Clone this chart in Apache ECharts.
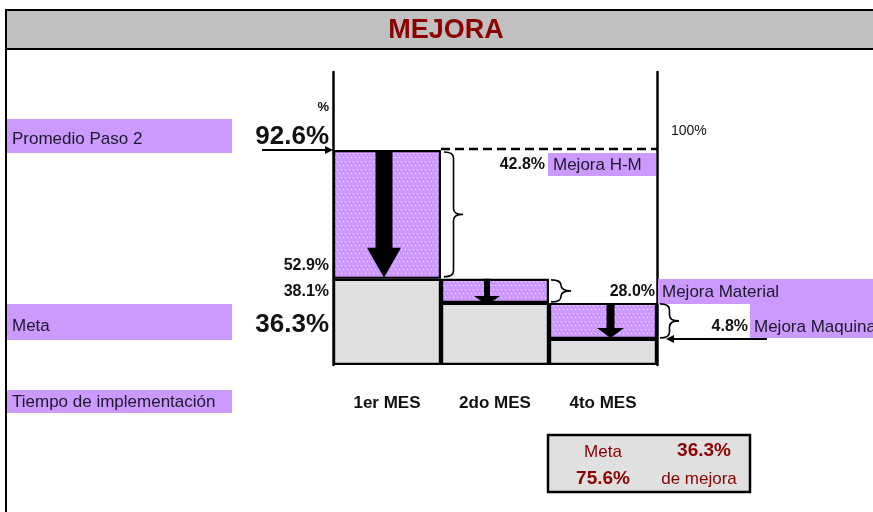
<!DOCTYPE html>
<html><head><meta charset="utf-8">
<script src="https://cdn.jsdelivr.net/npm/echarts@6/dist/echarts.min.js"></script>
<style>html,body{margin:0;padding:0;background:#fff}#c{width:873px;height:512px}</style>
</head><body><div id="c"></div>
<script>
// ---- data ----
const categories = ['1er MES', '2do MES', '4to MES'];
// drawn step levels on the diagram's own 0-100 vertical scale (not proportional to the labels)
const stepTop = [73.4, 29.4, 21.2];
const stepBottom = [29.4, 21.2, 8.9];
const levelLabels = ['92.6%', '52.9%', '38.1%', '36.3%'];
const improvementValues = ['42.8%', '28.0%', '4.8%'];
const improvementNames = ['Mejora H-M', 'Mejora Material', 'Mejora Maquina'];
const rowLabels = ['Promedio Paso 2', 'Meta', 'Tiempo de implementación'];
const metaValue = '36.3%';
const totalImprovement = '75.6%';
const titleText = 'MEJORA';

// ---- styles ----
const FONT = '"Liberation Sans", Arial, sans-serif';
const PURPLE = '#cc99ff';
const GRAY = '#e0e0e0';
const DARKRED = '#8b0000';
const arrowStyles = [
  {dx: -3, shaft: 17, headW: 34, head: 30, over: -1},
  {dx: -8, shaft: 6, headW: 26, head: 9, over: 2},
  {dx: 7.5, shaft: 8, headW: 27, head: 10, over: -1}
];
const braceStyles = [
  {gap: 3, w: 19, inset: 2},
  {gap: 2, w: 20, inset: 1},
  {gap: 3, w: 19, inset: 1}
];

// dotted purple pattern
const pc = document.createElement('canvas');
pc.width = 8; pc.height = 8;
const pctx = pc.getContext('2d');
pctx.fillStyle = PURPLE; pctx.fillRect(0, 0, 8, 8);
pctx.fillStyle = 'rgba(255,255,255,0.8)';
pctx.fillRect(1, 1, 1, 1); pctx.fillRect(5, 1, 1, 1);
pctx.fillRect(3, 5, 1, 1); pctx.fillRect(7, 5, 1, 1);
const dotted = {image: pc, repeat: 'repeat'};

function txt(x, y, text, font, fill, align) {
  return {type: 'text', x: x, y: y, z: 100,
    style: {text: text, font: font, fill: fill || '#111',
      textAlign: align || 'left', align: align || 'left',
      textVerticalAlign: 'middle', verticalAlign: 'middle'}};
}
function box(x, y, w, h, fill, stroke, lw, z) {
  return {type: 'rect', z: z || 1, shape: {x: x, y: y, width: w, height: h},
    style: {fill: fill, stroke: stroke || null, lineWidth: lw || 0}};
}

const graphics = [
  // title band + frame
  box(6, 10, 880, 39, '#c0c0c0', '#000', 2, 2),
  {type: 'line', z: 2, shape: {x1: 6, y1: 10, x2: 6, y2: 512}, style: {stroke: '#000', lineWidth: 2}},
  txt(446, 31, titleText, 'bold 27px ' + FONT, DARKRED, 'center'),
  // left row labels
  box(7, 119, 225, 34, PURPLE),
  txt(12, 139, rowLabels[0], '17px ' + FONT, '#1a1a2a'),
  box(7, 304, 225, 36, PURPLE),
  txt(12, 326, rowLabels[1], '17px ' + FONT, '#1a1a2a'),
  box(7, 390, 225, 23, PURPLE),
  txt(12, 402, rowLabels[2], '17px ' + FONT, '#1a1a2a'),
  // level labels
  txt(329, 107, '%', 'bold 13px ' + FONT, '#111', 'right'),
  txt(329, 137, levelLabels[0], 'bold 26px ' + FONT, '#111', 'right'),
  txt(329, 266, levelLabels[1], 'bold 16px ' + FONT, '#111', 'right'),
  txt(329, 292, levelLabels[2], 'bold 16px ' + FONT, '#111', 'right'),
  txt(329, 325, levelLabels[3], 'bold 26px ' + FONT, '#111', 'right'),
  txt(671, 131, '100%', '14px ' + FONT, '#111'),
  // improvement labels
  box(548, 153, 108, 23, PURPLE),
  txt(545, 165, improvementValues[0], 'bold 16px ' + FONT, '#111', 'right'),
  txt(553, 165, improvementNames[0], '17px ' + FONT, '#1a1a2a'),
  box(658, 279, 220, 25, PURPLE),
  txt(655, 292, improvementValues[1], 'bold 16px ' + FONT, '#111', 'right'),
  txt(662, 292, improvementNames[1], '17px ' + FONT, '#1a1a2a'),
  box(750, 304, 128, 34, PURPLE),
  txt(748, 327, improvementValues[2], 'bold 16px ' + FONT, '#111', 'right'),
  txt(754, 327, improvementNames[2], '17px ' + FONT, '#1a1a2a'),
  // summary box
  box(548, 435, 202, 57, GRAY, '#000', 2.5),
  txt(603, 452, 'Meta', '17px ' + FONT, DARKRED, 'center'),
  txt(704, 451, metaValue, 'bold 19px ' + FONT, DARKRED, 'center'),
  txt(603, 479, totalImprovement, 'bold 19px ' + FONT, DARKRED, 'center'),
  txt(699, 479, 'de mejora', '17px ' + FONT, DARKRED, 'center')
];

const chart = echarts.init(document.getElementById('c'), null, {renderer: 'canvas'});

function renderSteps(params, api) {
  const i = api.value(0);
  const top = api.coord([i, api.value(1)]);
  const bot = api.coord([i, api.value(2)]);
  const bw = api.size([1, 0])[0];
  const right = top[0] + bw / 2;
  const gridRight = api.coord([2, 0])[0] + bw / 2;
  const gridLeft = api.coord([0, 0])[0] - bw / 2;
  const children = [];
  // down arrow
  const a = arrowStyles[i];
  const cx = top[0] + a.dx;
  const y0 = top[1], y1 = bot[1] + a.over, yh = y1 - a.head;
  children.push({type: 'polygon', shape: {points: [
    [cx - a.shaft / 2, y0], [cx + a.shaft / 2, y0], [cx + a.shaft / 2, yh],
    [cx + a.headW / 2, yh], [cx, y1], [cx - a.headW / 2, yh], [cx - a.shaft / 2, yh]]},
    style: {fill: '#000'}});
  // brace
  const b = braceStyles[i];
  const x0 = right + b.gap, xm = x0 + b.w * 0.5, xt = x0 + b.w;
  const yt = top[1] + b.inset, yb = bot[1] - b.inset, ymid = (yt + yb) / 2;
  const r = Math.min(6, (yb - yt) / 4);
  children.push({type: 'path', shape: {pathData:
    'M' + x0 + ' ' + yt + ' Q' + xm + ' ' + yt + ' ' + xm + ' ' + (yt + r) +
    ' L' + xm + ' ' + (ymid - r) + ' Q' + xm + ' ' + ymid + ' ' + xt + ' ' + ymid +
    ' Q' + xm + ' ' + ymid + ' ' + xm + ' ' + (ymid + r) +
    ' L' + xm + ' ' + (yb - r) + ' Q' + xm + ' ' + yb + ' ' + x0 + ' ' + yb},
    style: {fill: null, stroke: '#000', lineWidth: 1.6}});
  if (i === 0) {
    // dashed guide at the starting level
    children.push({type: 'line', shape: {x1: right, y1: top[1] - 1, x2: gridRight, y2: top[1] - 1},
      style: {stroke: '#000', lineWidth: 2.5, lineDash: [9, 5]}});
    // arrow from the left label
    const ay = top[1];
    children.push({type: 'line', shape: {x1: gridLeft - 71, y1: ay, x2: gridLeft - 3, y2: ay},
      style: {stroke: '#000', lineWidth: 2}});
    children.push({type: 'polygon', shape: {points: [[gridLeft, ay], [gridLeft - 8, ay - 4], [gridLeft - 8, ay + 4]]},
      style: {fill: '#000'}});
  }
  if (i === 2) {
    const ay = bot[1];
    const ax = gridRight + 9;
    children.push({type: 'line', shape: {x1: ax + 3, y1: ay, x2: ax + 101, y2: ay},
      style: {stroke: '#000', lineWidth: 2}});
    children.push({type: 'polygon', shape: {points: [[ax, ay], [ax + 8, ay - 4], [ax + 8, ay + 4]]},
      style: {fill: '#000'}});
  }
  return {type: 'group', children: children};
}

const option = {
  animation: false,
  backgroundColor: '#fff',
  grid: {left: 333, right: 216, top: 72, bottom: 147, containLabel: false},
  xAxis: {type: 'category', data: categories,
    axisLine: {show: false}, axisTick: {show: false},
    axisLabel: {margin: 30, fontSize: 17, fontWeight: 'bold', color: '#111', fontFamily: FONT}},
  yAxis: [
    {type: 'value', min: 0, max: 100, position: 'left',
      axisLine: {show: true, lineStyle: {color: '#000', width: 2.5}},
      axisTick: {show: false}, axisLabel: {show: false}, splitLine: {show: false}},
    {type: 'value', min: 0, max: 100, position: 'right',
      axisLine: {show: true, lineStyle: {color: '#000', width: 2.5}},
      axisTick: {show: false}, axisLabel: {show: false}, splitLine: {show: false}}
  ],
  graphic: graphics,
  series: [
    {type: 'bar', stack: 'w', barCategoryGap: '0%', data: stepBottom,
      itemStyle: {color: GRAY, borderColor: '#000', borderWidth: 2.2}, z: 2},
    {type: 'bar', stack: 'w', barCategoryGap: '0%',
      data: stepTop.map((t, i) => +(t - stepBottom[i]).toFixed(2)),
      itemStyle: {color: dotted, borderColor: '#000', borderWidth: 2.2}, z: 2},
    {type: 'custom', renderItem: renderSteps, z: 5, clip: false,
      data: categories.map((c, i) => [i, stepTop[i], stepBottom[i]])}
  ]
};
chart.setOption(option);
</script>
</body></html>
